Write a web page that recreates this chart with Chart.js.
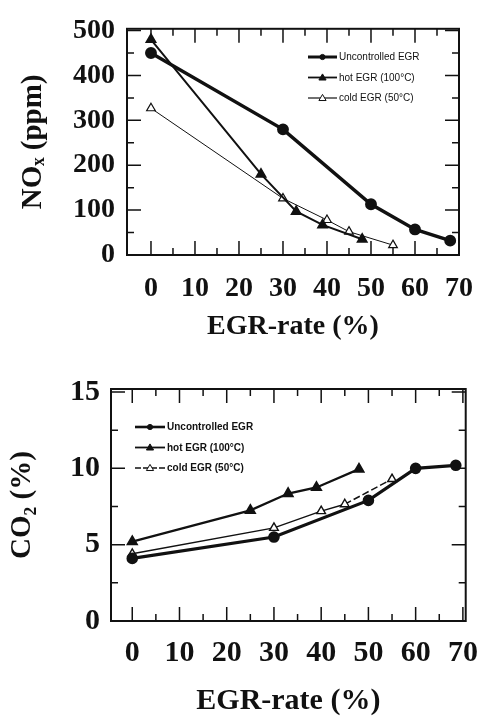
<!DOCTYPE html>
<html>
<head>
<meta charset="utf-8">
<script src="https://cdn.jsdelivr.net/npm/chart.js@4.4.0/dist/chart.umd.min.js"></script>
<style>
  html, body { margin: 0; padding: 0; background: #fff; overflow: hidden; }
  .wrap { width: 492px; }
</style>
</head>
<body>
<div class="wrap" style="height:360px"><canvas id="noxChart" width="492" height="360"></canvas></div>
<div class="wrap" style="height:358px"><canvas id="co2Chart" width="492" height="358"></canvas></div>
<script>
// series labels
const seriesLabels = ["Uncontrolled EGR", "hot EGR (100°C)", "cold EGR (50°C)"];

// NOx (ppm) vs EGR-rate (%)
const noxUnctrlX = [0, 30, 50, 60, 68];
const noxUnctrl  = [450, 280, 113, 57, 32];
const noxHotX    = [0, 25, 33, 39, 48];
const noxHot     = [480, 180, 97, 67, 35];
const noxColdX   = [0, 30, 40, 45, 55];
const noxCold    = [327, 126, 78, 52, 22];

// CO2 (%) vs EGR-rate (%)
const co2UnctrlX = [0, 30, 50, 60, 68.5];
const co2Unctrl  = [4.1, 5.5, 7.9, 10.0, 10.2];
const co2HotX    = [0, 25, 33, 39, 48];
const co2Hot     = [5.2, 7.25, 8.35, 8.75, 9.95];
const co2ColdX   = [0, 30, 40, 45, 55];
const co2Cold    = [4.4, 6.1, 7.2, 7.65, 9.3];

// tick labels
const xTicks    = [0, 10, 20, 30, 40, 50, 60, 70];
const noxTicks  = [0, 100, 200, 300, 400, 500];
const co2Ticks  = [0, 5, 10, 15];

const ink = "#111";
const serif = "'Liberation Serif', 'DejaVu Serif', serif";
const sans = "'Liberation Sans', Arial, sans-serif";

function pts(xs, ys) {
  return xs.map((x, i) => ({ x: x, y: ys[i] }));
}

// box around the plot with inward ticks on all four sides
const frameTicks = {
  id: "frameTicks",
  beforeDatasetsDraw(chart, args, opts) {
    const { ctx, chartArea: a, scales } = chart;
    const x = scales.x, y = scales.y;
    ctx.save();
    ctx.strokeStyle = ink;
    ctx.lineWidth = 1.5;
    ctx.beginPath();
    for (let v = 0; v <= opts.xEnd + 1e-9; v += opts.xStep) {
      const px = x.getPixelForValue(v);
      const len = Math.abs(v % opts.xMajor) < 1e-9 ? 14 : 7;
      ctx.moveTo(px, a.bottom); ctx.lineTo(px, a.bottom - len);
      ctx.moveTo(px, a.top); ctx.lineTo(px, a.top + len);
    }
    for (let v = 0; v <= opts.yEnd + 1e-9; v += opts.yStep) {
      const py = y.getPixelForValue(v);
      const len = Math.abs(v % opts.yMajor) < 1e-9 ? 14 : 7;
      ctx.moveTo(a.left, py); ctx.lineTo(a.left + len, py);
      ctx.moveTo(a.right, py); ctx.lineTo(a.right - len, py);
    }
    ctx.stroke();
    ctx.lineWidth = 2;
    ctx.strokeRect(a.left, a.top, a.right - a.left, a.bottom - a.top);
    ctx.restore();
  }
};

// small legend drawn inside the plot, line sample with marker in the middle
const inlineLegend = {
  id: "inlineLegend",
  afterDatasetsDraw(chart, args, opts) {
    const ctx = chart.ctx;
    chart.data.datasets.forEach((ds, i) => {
      const y = opts.y + i * opts.gap;
      const mx = opts.x + opts.len / 2;
      ctx.save();
      ctx.strokeStyle = ink;
      ctx.lineWidth = opts.widths[i];
      ctx.setLineDash(ds.legendDash || []);
      ctx.beginPath();
      ctx.moveTo(opts.x, y);
      ctx.lineTo(opts.x + opts.len, y);
      ctx.stroke();
      ctx.setLineDash([]);
      ctx.lineWidth = 1;
      ctx.fillStyle = ds.pointBackgroundColor;
      ctx.beginPath();
      if (ds.pointStyle === "circle") {
        ctx.arc(mx, y, 2.6, 0, Math.PI * 2);
      } else {
        const r = 3.6;
        ctx.moveTo(mx, y - r);
        ctx.lineTo(mx + r, y + r * 0.7);
        ctx.lineTo(mx - r, y + r * 0.7);
        ctx.closePath();
      }
      ctx.fill();
      ctx.stroke();
      ctx.fillStyle = ink;
      ctx.font = opts.font;
      ctx.textBaseline = "middle";
      ctx.textAlign = "left";
      ctx.fillText(ds.label, opts.x + opts.len + 2, y + 0.5);
      ctx.restore();
    });
  }
};

function makeChart(canvas, cfg) {
  return new Chart(canvas, {
    type: "line",
    data: { datasets: cfg.datasets },
    options: {
      responsive: false,
      animation: false,
      events: [],
      layout: { padding: cfg.padding },
      plugins: {
        legend: { display: false },
        tooltip: { enabled: false },
        frameTicks: cfg.frame,
        inlineLegend: cfg.legend
      },
      scales: {
        x: {
          type: "linear",
          min: cfg.xMin,
          max: cfg.xMax,
          grid: { display: false, drawTicks: false },
          border: { display: false },
          afterBuildTicks: axis => { axis.ticks = xTicks.map(v => ({ value: v })); },
          afterFit: axis => { axis.height = cfg.xHeight; },
          ticks: {
            color: ink,
            padding: cfg.xTickPad,
            maxRotation: 0,
            autoSkip: false,
            font: { family: serif, weight: "bold", size: cfg.tickSize }
          },
          title: {
            display: true,
            text: "EGR-rate (%)",
            color: ink,
            padding: { top: 0, bottom: cfg.xTitlePad },
            font: { family: serif, weight: "bold", size: cfg.titleSize, lineHeight: 1.1 }
          }
        },
        y: {
          type: "linear",
          min: cfg.yMin,
          max: cfg.yMax,
          grid: { display: false, drawTicks: false },
          border: { display: false },
          afterBuildTicks: axis => { axis.ticks = cfg.yTicks.map(v => ({ value: v })); },
          afterFit: axis => { axis.width = cfg.yWidth; },
          ticks: {
            color: ink,
            padding: cfg.yTickPad,
            autoSkip: false,
            font: { family: serif, weight: "bold", size: cfg.tickSize }
          },
          title: {
            display: true,
            text: cfg.yTitle,
            color: ink,
            padding: { top: cfg.yTitlePad, bottom: 0 },
            font: { family: serif, weight: "bold", size: 29, lineHeight: 1.2 }
          }
        }
      }
    },
    plugins: [frameTicks, inlineLegend]
  });
}

document.addEventListener("DOMContentLoaded", function () {
  makeChart(document.getElementById("noxChart"), {
    datasets: [
      { label: seriesLabels[0], data: pts(noxUnctrlX, noxUnctrl), borderColor: ink, borderWidth: 3.5,
        pointStyle: "circle", pointRadius: 4.2, pointBackgroundColor: ink, pointBorderColor: ink },
      { label: seriesLabels[1], data: pts(noxHotX, noxHot), borderColor: ink, borderWidth: 2,
        pointStyle: "triangle", pointRadius: 5, pointBackgroundColor: ink, pointBorderColor: ink },
      { label: seriesLabels[2], data: pts(noxColdX, noxCold), borderColor: ink, borderWidth: 1,
        pointStyle: "triangle", pointRadius: 5, pointBackgroundColor: "#fff", pointBorderColor: ink, pointBorderWidth: 1.2 }
    ],
    padding: { left: 0, right: 33, top: 13, bottom: 0 },
    xMin: -5.45, xMax: 70,
    yMin: 0, yMax: 504, yTicks: noxTicks,
    xHeight: 105, yWidth: 127,
    xTickPad: 17, yTickPad: 12,
    xTitlePad: 18, yTitlePad: 16,
    tickSize: 28, titleSize: 28,
    yTitle: "NOₓ (ppm)",
    frame: { xStep: 5, xMajor: 10, xEnd: 70, yStep: 50, yMajor: 100, yEnd: 500 },
    legend: { x: 308, y: 57, gap: 20.5, len: 29, widths: [3, 1.8, 1.2], font: "10px " + sans }
  });

  makeChart(document.getElementById("co2Chart"), {
    datasets: [
      { label: seriesLabels[0], data: pts(co2UnctrlX, co2Unctrl), borderColor: ink, borderWidth: 3.2,
        pointStyle: "circle", pointRadius: 4.2, pointBackgroundColor: ink, pointBorderColor: ink },
      { label: seriesLabels[1], data: pts(co2HotX, co2Hot), borderColor: ink, borderWidth: 2.2,
        pointStyle: "triangle", pointRadius: 5, pointBackgroundColor: ink, pointBorderColor: ink },
      { label: seriesLabels[2], data: pts(co2ColdX, co2Cold), borderColor: ink, borderWidth: 1.5,
        pointStyle: "triangle", pointRadius: 5, pointBackgroundColor: "#fff", pointBorderColor: ink, pointBorderWidth: 1.4,
        legendDash: [6, 2],
        segment: { borderDash: c => (c.p0.parsed.x >= 45 ? [7, 3] : undefined) } }
    ],
    padding: { left: 0, right: 15, top: 25, bottom: 0 },
    xMin: -4.5, xMax: 70.6,
    yMin: 0, yMax: 15.2, yTicks: co2Ticks,
    xHeight: 97, yWidth: 111,
    xTickPad: 14, yTickPad: 11,
    xTitlePad: 0, yTitlePad: 5,
    tickSize: 30, titleSize: 30,
    yTitle: "CO₂ (%)",
    frame: { xStep: 5, xMajor: 10, xEnd: 70, yStep: 2.5, yMajor: 5, yEnd: 15 },
    legend: { x: 135, y: 67, gap: 20.5, len: 30, widths: [2.6, 1.8, 1.5], font: "bold 10px " + sans }
  });
});
</script>
</body>
</html>
